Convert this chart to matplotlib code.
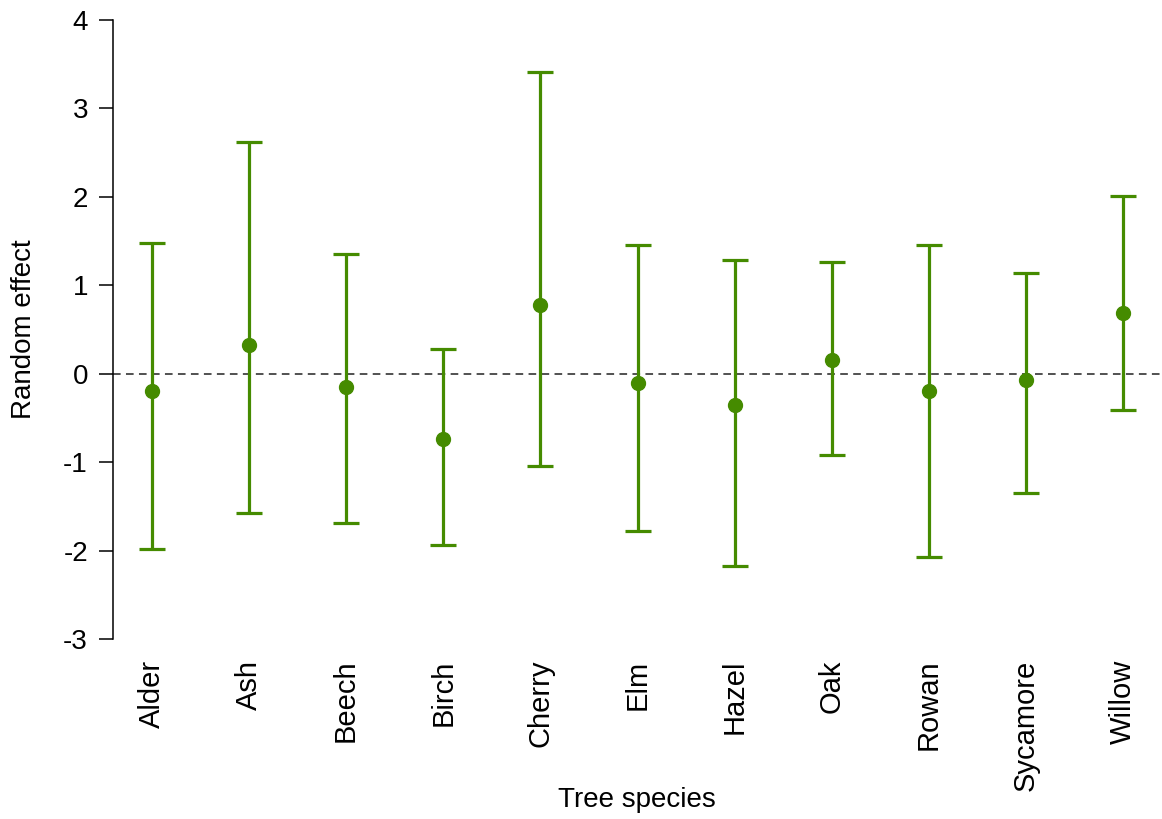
import matplotlib.pyplot as plt

species = ["Alder", "Ash", "Beech", "Birch", "Cherry", "Elm",
           "Hazel", "Oak", "Rowan", "Sycamore", "Willow"]
effect = [-0.19, 0.33, -0.15, -0.74, 0.78, -0.11, -0.35, 0.15, -0.20, -0.07, 0.69]
upper = [1.48, 2.62, 1.35, 0.28, 3.41, 1.45, 1.28, 1.26, 1.45, 1.14, 2.01]
lower = [-1.98, -1.57, -1.69, -1.94, -1.04, -1.78, -2.17, -0.92, -2.07, -1.35, -0.41]

plt.rcParams["font.family"] = ["Liberation Sans", "DejaVu Sans"]
plt.rcParams["axes.unicode_minus"] = False

fig = plt.figure(figsize=(11.62, 8.19), dpi=100)
ax = fig.add_axes([113 / 1162, 1 - 657 / 819, (1162 - 113) / 1162, (657 - 2) / 819])

x = list(range(1, len(species) + 1))
err_lo = [e - l for e, l in zip(effect, lower)]
err_hi = [u - e for e, u in zip(effect, upper)]

ax.axhline(0, color="#222222", lw=1.1, ls=(0, (5, 3.5)), zorder=1)
ax.errorbar(x, effect, yerr=[err_lo, err_hi], fmt="o", color="#458B00",
            ms=10, elinewidth=2.3, capsize=9.5, capthick=2.3, zorder=3)

ax.set_xlim(0.6, 11.4)
ax.set_ylim(-3.2, 4.2)
ax.set_yticks(range(-3, 5))
ax.set_xticks(x)
ax.set_xticklabels(species, rotation=90, fontsize=21)
ax.tick_params(axis="x", length=0, pad=2)
ax.tick_params(axis="y", labelsize=20, length=10, width=1.1, pad=8)

for s in ["top", "right", "bottom"]:
    ax.spines[s].set_visible(False)
ax.spines["left"].set_bounds(-3, 4)
ax.spines["left"].set_linewidth(1.1)

ax.set_ylabel("Random effect", fontsize=20, labelpad=19)
# x label sits level with the bottom of the longest species name
fig.text(637 / 1162, 1 - 800 / 819, "Tree species", fontsize=20,
         ha="center", va="center")

fig.savefig("out.png", dpi=100)
